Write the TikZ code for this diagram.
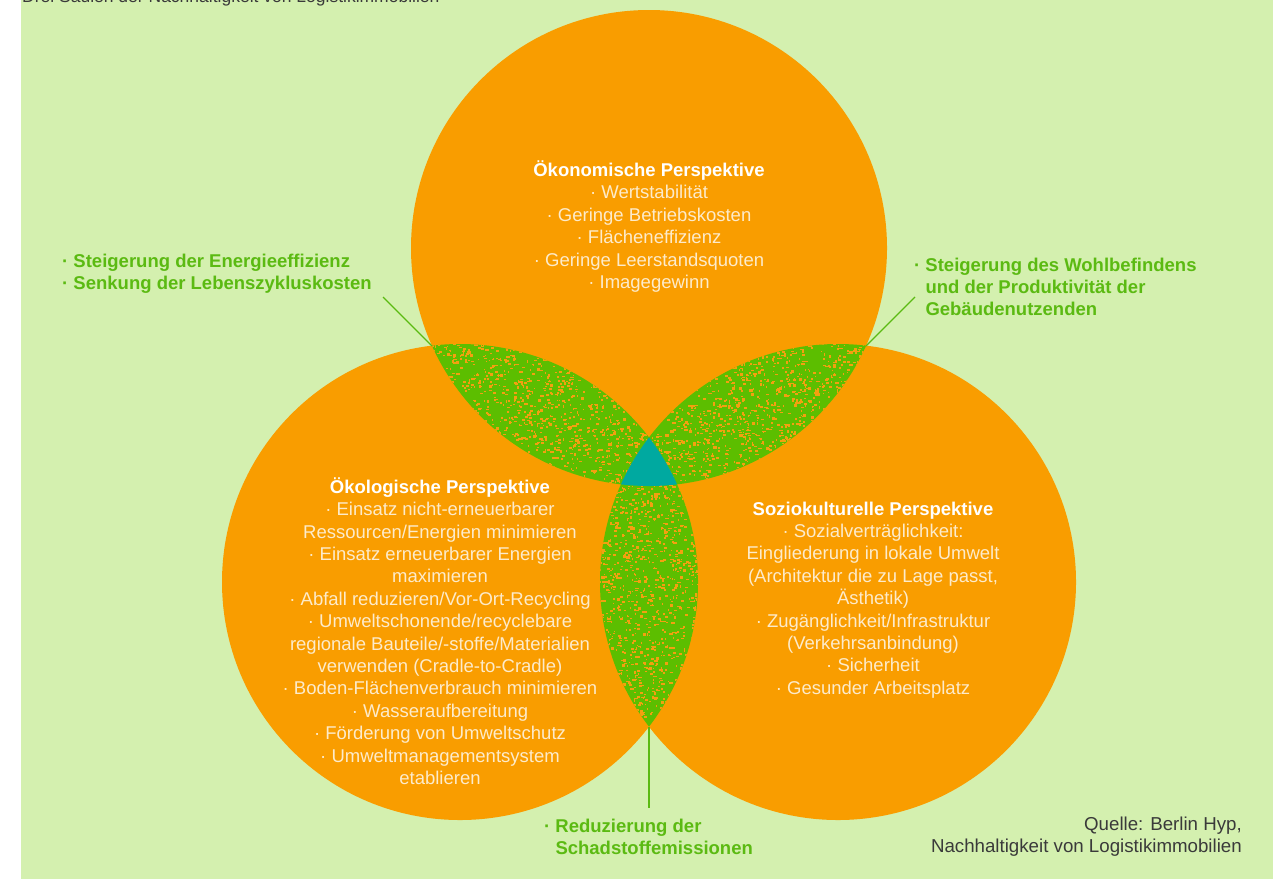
\documentclass[tikz,border=0pt]{standalone}
\usepackage{fontspec}
\setmainfont{Liberation Sans}
\definecolor{bggreen}{HTML}{D4F0AF}
\definecolor{orangefill}{HTML}{F99D00}
\definecolor{lensgreen}{HTML}{5CBE00}
\definecolor{midteal}{HTML}{00A9A0}
\definecolor{labgreen}{HTML}{5BBA12}
\definecolor{cream}{HTML}{FDEBCB}
\definecolor{speck}{HTML}{F3A010}
\definecolor{srcgray}{HTML}{3A3A3A}
\newcommand\myspeckles[5]{%
  \foreach \i in {1,...,#5}{%
    \pgfmathsetmacro\sx{#1+#3*rnd}%
    \pgfmathsetmacro\sy{#2+#4*rnd}%
    \pgfmathsetmacro\sw{0.8+2.8*rnd}%
    \pgfmathsetmacro\sh{0.8+1.8*rnd}%
    \fill[speck] (\sx,\sy) rectangle ++(\sw,\sh);
  }}
\def\circT{(649,248) circle (238pt)}
\def\circL{(460,582) circle (238pt)}
\def\circR{(838,582) circle (238pt)}
\tikzset{
  circtext/.style={text=cream, align=center, font=\fontsize{18.5}{22.4}\selectfont, inner sep=0pt},
  greenlab/.style={text=labgreen, align=left, font=\fontsize{18.5}{22}\selectfont\bfseries, inner sep=0pt},
  leader/.style={draw=labgreen, line width=1.3pt},
  srctext/.style={text=srcgray, align=right, font=\fontsize{18.7}{22}\selectfont, inner sep=0pt}
}
\begin{document}
\begin{tikzpicture}[x=1pt,y=-1pt]
\useasboundingbox (0,0) rectangle (1281,879);
\fill[white] (0,0) rectangle (1281,879);
\fill[bggreen] (21,-5) rectangle (1273,879);
\node[anchor=base west, text=srcgray, font=\fontsize{17.5}{21}\selectfont, inner sep=0pt] (title) at (22,2) {Drei Säulen der Nachhaltigkeit von Logistikimmobilien};
% circles
\fill[orangefill] \circT;
\fill[orangefill] \circL;
\fill[orangefill] \circR;
\pgfmathsetseed{4242}
% lens top-left
\begin{scope}
  \clip \circT; \clip \circL;
  \fill[lensgreen] (400,330) rectangle (700,500);
  \myspeckles{420}{338}{245}{155}{1700}
\end{scope}
% lens top-right
\begin{scope}
  \clip \circT; \clip \circR;
  \fill[lensgreen] (600,330) rectangle (900,500);
  \myspeckles{635}{338}{245}{155}{1700}
\end{scope}
% lens bottom
\begin{scope}
  \clip \circL; \clip \circR;
  \fill[lensgreen] (590,420) rectangle (710,740);
  \myspeckles{592}{425}{115}{310}{1600}
\end{scope}
% centre
\begin{scope}
  \clip \circT; \clip \circL; \clip \circR;
  \fill[midteal] (590,420) rectangle (710,500);
\end{scope}
% circle texts
\node[circtext] (oeko) at (649,226.5) {\textbf{\color{white}Ökonomische Perspektive}\\
· Wertstabilität\\
· Geringe Betriebskosten\\
· Flächeneffizienz\\
· Geringe Leerstandsquoten\\
· Imagegewinn};
\node[circtext] (oekol) at (440,631) {\textbf{\color{white}Ökologische Perspektive}\\
· Einsatz nicht-erneuerbarer\\
Ressourcen/Energien minimieren\\
· Einsatz erneuerbarer Energien\\
maximieren\\
· Abfall reduzieren/Vor-Ort-Recycling\\
· Umweltschonende/recyclebare\\
regionale Bauteile/-stoffe/Materialien\\
verwenden (Cradle-to-Cradle)\\
· Boden-Flächenverbrauch minimieren\\
· Wasseraufbereitung\\
· Förderung von Umweltschutz\\
· Umweltmanagementsystem\\
etablieren};
\node[circtext] (sozio) at (873,600) {\textbf{\color{white}Soziokulturelle Perspektive}\\
· Sozialverträglichkeit:\\
Eingliederung in lokale Umwelt\\
(Architektur die zu Lage passt,\\
Ästhetik)\\
· Zugänglichkeit/Infrastruktur\\
(Verkehrsanbindung)\\
· Sicherheit\\
· Gesunder Arbeitsplatz};
% green labels
\node[greenlab, anchor=west] (labL) at (62,274) {· Steigerung der Energieeffizienz\\· Senkung der Lebenszykluskosten};
\node[greenlab, anchor=west] (labR) at (914,287) {· Steigerung des Wohlbefindens\\\hphantom{· }und der Produktivität der\\\hphantom{· }Gebäudenutzenden};
\node[greenlab, anchor=west] (labB) at (544,837) {· Reduzierung der\\\hphantom{· }Schadstoffemissionen};
% leaders
\coordinate (tipTL) at (432,346);
\coordinate (endTL) at (383,297);
\coordinate (tipTR) at (866,346);
\coordinate (endTR) at (915,297);
\coordinate (tipB) at (649,727);
\coordinate (endB) at (649,808);
\draw[leader] (endTL) -- (tipTL);
\draw[leader] (endTR) -- (tipTR);
\draw[leader] (tipB) -- (endB);
% source
\node[srctext, anchor=east] (src) at (1242,837) {Quelle: Berlin Hyp,\\Nachhaltigkeit von Logistikimmobilien};
\end{tikzpicture}
\end{document}
